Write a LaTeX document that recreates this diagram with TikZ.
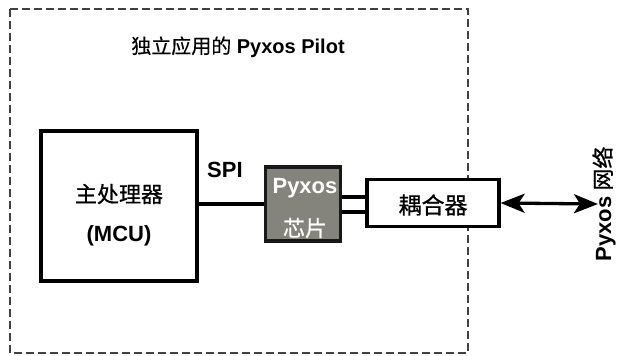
\documentclass[tikz,border=0pt]{standalone}
\usepackage{fontspec}
\setmainfont{Liberation Sans}
\newfontfamily\cjk[FakeBold=0.7]{Noto Sans CJK SC}
\newfontfamily\cjkt[FakeBold=0.3]{Noto Sans CJK SC}
\usetikzlibrary{arrows.meta}
\tikzset{
  box/.style={draw=black, line width=3.2pt, fill=white, inner sep=0pt},
  chipbox/.style={draw=black!90, line width=3.6pt, fill=chipgrey, inner sep=0pt},
  lbl/.style={font=\bfseries\fontsize{22}{24}\selectfont, inner sep=0pt},
  wire/.style={line width=3.3pt, black},
  bigtip/.tip={Stealth[length=24pt,width=19pt,inset=6pt]},
}
\definecolor{chipgrey}{HTML}{85847C}
\begin{document}
\begin{tikzpicture}[x=1pt,y=-1pt]
\useasboundingbox (0,0) rectangle (619,356);
% outer dashed frame
\draw[black!75, line width=1.5pt, dash pattern=on 8pt off 4pt] (10,9) rectangle (468,353);
\node[inner sep=0pt, font=\fontsize{20}{22}\selectfont] (title) at (238,47) {{\cjkt 独立应用的} \textbf{Pyxos Pilot}};
% MCU
\node[box, minimum width=156pt, minimum height=150pt] (mcu) at (119,206) {};
\node[inner sep=0pt, font=\fontsize{22}{24}\selectfont\cjk] (mcut) at (119,194) {主处理器};
\node[lbl] (mcul) at (119,236) {(MCU)};
% chip
\node[chipbox, minimum width=75pt, minimum height=74pt] (chip) at (303,204) {};
\node[lbl, text=white] (chipt) at (305,188) {Pyxos};
\node[inner sep=0pt, text=white, font=\fontsize{22}{24}\selectfont\cjk] (chipc) at (305,228) {芯片};
% coupler
\node[box, minimum width=132pt, minimum height=47pt] (cpl) at (433,203) {};
\node[inner sep=0pt, font=\fontsize{23}{25}\selectfont\cjk] (cplt) at (433,205) {耦合器};
% SPI
\node[lbl, anchor=west] (spi) at (207,170) {SPI};
\draw[wire] (mcu.east |- 0,204) -- (chip.west |- 0,204);
\draw[wire] (chip.east |- 0,197) -- (cpl.west |- 0,197);
\draw[wire] (chip.east |- 0,212) -- (cpl.west |- 0,212);
% network arrow
\coordinate (net) at (598,204);
\draw[line width=3.3pt, bigtip-bigtip] (cpl.east) -- (net);
\node[inner sep=0pt, rotate=90, font=\fontsize{22}{24}\selectfont] (netl) at (604,204) {\textbf{Pyxos} {\cjk 网络}};
\end{tikzpicture}
\end{document}
